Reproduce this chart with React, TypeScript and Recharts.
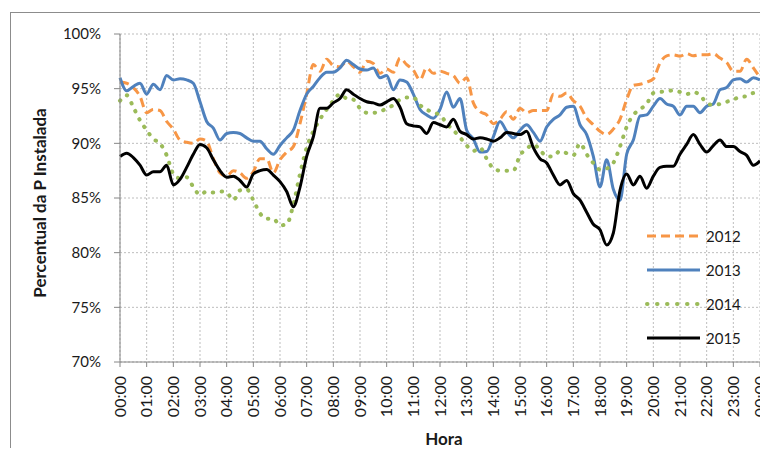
import { LineChart, Line, XAxis, YAxis, CartesianGrid, Legend, Label } from 'recharts'

// 15-minute samples, 00:00 .. 24:00 (97 points)
const serie2012 = [
  95.6, 95.5, 95.1, 94.3, 92.8, 93.1, 93.0, 92.0, 91.3, 90.3, 90.1, 90.0, 90.4, 90.2, 88.6, 87.3, 87.0, 87.5, 87.3, 86.8, 87.4, 88.6, 88.6, 87.3, 88.5,
  89.2, 89.7, 91.8, 94.5, 97.2, 96.6, 97.7, 97.1, 97.0, 97.5, 97.0, 96.5, 97.5, 97.3, 96.4, 96.8, 96.5, 97.8, 97.2, 96.7, 95.8, 96.9, 96.4, 96.6,
  96.4, 96.2, 95.5, 96.0, 93.7, 92.9, 92.6, 91.8, 92.2, 92.9, 92.2, 93.2, 92.8, 93.0, 93.0, 93.0, 94.5, 94.3, 94.6, 93.9, 93.4, 92.3, 91.7, 91.1,
  90.8, 91.3, 92.2, 94.0, 95.3, 95.4, 95.6, 95.9, 97.35, 98.0, 98.1, 97.97, 98.2, 98.0, 98.1, 98.1, 98.2, 97.8, 97.4, 96.6, 96.6, 97.7, 96.9, 96.0,
]

const serie2013 = [
  96.0, 94.8, 95.2, 95.5, 94.5, 95.4, 94.9, 96.2, 95.8, 95.9, 95.8, 95.5, 93.8, 92.0, 91.4, 90.3, 90.9, 91.0, 90.9, 90.5, 90.2, 90.2, 89.5, 89.0, 89.8,
  90.5, 91.2, 93.0, 94.5, 95.2, 96.0, 96.5, 96.5, 96.9, 97.6, 97.2, 96.8, 96.7, 96.9, 96.0, 96.2, 94.9, 95.8, 95.6, 94.5, 93.1, 92.6, 92.3, 93.1,
  94.7, 93.3, 94.1, 91.2, 90.4, 89.2, 89.25, 90.6, 92.0, 91.1, 90.5, 91.2, 91.7, 91.0, 90.2, 91.5, 92.2, 92.6, 93.3, 93.4, 91.7, 90.8, 88.8, 86.0,
  88.5, 85.8, 84.8, 89.0, 90.3, 92.5, 92.6, 93.4, 94.1, 93.6, 93.4, 92.6, 93.4, 93.4, 92.8, 93.4, 93.6, 94.9, 95.1, 95.8, 95.9, 95.6, 96.0, 95.8,
]

const serie2014 = [
  93.9, 94.4, 93.3, 92.1, 91.2, 90.4, 90.0, 88.9, 87.2, 86.8, 86.9, 86.0, 85.3, 85.6, 85.5, 85.6, 85.5, 84.8, 85.7, 85.8, 84.8, 83.6, 83.1, 83.1, 82.5,
  82.6, 84.4, 87.2, 89.6, 91.1, 92.2, 93.1, 93.9, 94.5, 94.1, 94.0, 93.2, 92.8, 92.8, 92.9, 93.2, 93.5, 94.0, 94.2, 94.2, 93.5, 93.1, 92.8, 92.6,
  91.8, 91.2, 90.55, 89.8, 89.3, 89.6, 88.6, 87.7, 87.5, 87.5, 87.5, 88.9, 89.5, 89.9, 89.4, 88.8, 88.8, 89.3, 89.1, 88.9, 90.0, 89.0, 88.2, 87.6,
  87.7, 88.2, 89.7, 91.5, 92.6, 93.1, 93.6, 94.6, 94.7, 94.75, 94.85, 94.7, 94.5, 94.7, 94.4, 93.7, 93.5, 93.6, 93.8, 94.0, 94.25, 94.3, 94.6, 94.6,
]

const serie2015 = [
  88.8, 89.1, 88.7, 88.0, 87.1, 87.4, 87.4, 88.0, 86.2, 86.7, 87.8, 89.0, 89.9, 89.6, 88.5, 87.5, 86.9, 87.0, 86.6, 86.0, 87.2, 87.5, 87.6, 87.1, 86.5,
  85.6, 84.2, 86.0, 88.8, 90.6, 93.2, 93.2, 93.7, 94.1, 94.9, 94.5, 94.1, 93.8, 93.7, 93.5, 93.8, 94.1, 93.3, 91.8, 91.6, 91.5, 90.9, 91.9, 91.7,
  91.5, 92.2, 91.1, 90.8, 90.4, 90.5, 90.4, 90.2, 90.5, 91.0, 90.9, 90.8, 91.1, 89.6, 88.6, 88.2, 87.1, 86.2, 86.6, 85.4, 84.8, 83.7, 82.6, 82.1,
  80.7, 81.8, 85.7, 87.2, 86.2, 87.0, 85.9, 87.0, 87.8, 87.9, 87.9, 89.0, 89.9, 90.8, 89.9, 89.2, 89.8, 90.3, 89.7, 89.7, 89.25, 88.9, 88.0, 88.4,
]

const hourTicks = [0, 1, 2, 3, 4, 5, 6, 7, 8, 9, 10, 11, 12, 13, 14, 15, 16, 17, 18, 19, 20, 21, 22, 23, 24]
const percentTicks = [70, 75, 80, 85, 90, 95, 100]

const series = [
  { key: 'y2012', name: '2012', color: '#F79646', dash: '9 5', legendDash: '9 5', cap: 'butt' as const, width: 3 },
  { key: 'y2013', name: '2013', color: '#4F81BD', dash: undefined, legendDash: undefined, cap: 'butt' as const, width: 3 },
  { key: 'y2014', name: '2014', color: '#9BBB59', dash: '0.5 8.5', legendDash: '0.5 9.5', cap: 'round' as const, width: 4 },
  { key: 'y2015', name: '2015', color: '#000000', dash: undefined, legendDash: undefined, cap: 'butt' as const, width: 3 },
]

const data = serie2012.map((v, i) => ({
  h: i / 4,
  y2012: v,
  y2013: serie2013[i],
  y2014: serie2014[i],
  y2015: serie2015[i],
}))

const FONT = 'Lato, "Open Sans", sans-serif'
const TEXT = '#1a1a1a'

function HourTick(props: any) {
  const { x, y, payload } = props
  const h = payload.value % 24
  const label = `${String(h).padStart(2, '0')}:00`
  return (
    <text
      x={x}
      y={y}
      transform={`rotate(-90 ${x} ${y})`}
      textAnchor="end"
      dy="0.36em"
      fontSize={16}
      fontFamily={FONT}
      fill={TEXT}
    >
      {label}
    </text>
  )
}

function LegendBox() {
  return (
    <div style={{ fontFamily: FONT }}>
      {series.map((s) => (
        <div key={s.key} style={{ display: 'flex', alignItems: 'center', height: 34 }}>
          <svg width={58} height={8}>
            <line
              x1={2}
              x2={55}
              y1={4}
              y2={4}
              stroke={s.color}
              strokeWidth={s.width}
              strokeDasharray={s.legendDash}
              strokeLinecap={s.cap}
            />
          </svg>
          <span style={{ fontSize: 15, color: TEXT, marginLeft: 3 }}>{s.name}</span>
        </div>
      ))}
    </div>
  )
}

export default function App() {
  return (
    <div
      style={{
        position: 'relative',
        width: 768,
        height: 456,
        margin: -8,
        overflow: 'hidden',
        background: '#fff',
        fontFamily: FONT,
      }}
    >
      <div
        style={{
          position: 'absolute',
          left: 10,
          top: 12,
          width: 800,
          height: 500,
          border: '1px solid #8c8c8c',
        }}
      />
      <div style={{ position: 'absolute', left: 0, top: 0 }}>
        <LineChart
          width={768}
          height={456}
          data={data}
          margin={{ top: 34, right: 8, left: 0, bottom: 0 }}
        >
          <CartesianGrid stroke="#bdbdbd" strokeDasharray="2 2" />
          <XAxis
            dataKey="h"
            type="number"
            domain={[0, 24]}
            ticks={hourTicks}
            interval={0}
            height={94}
            stroke="#868686"
            tickSize={5}
            tickMargin={9}
            tick={<HourTick />}
          >
            <Label
              content={(p: any) => {
                const vb = p.viewBox
                return (
                  <text
                    x={vb.x + vb.width / 2 + 4}
                    y={445}
                    textAnchor="middle"
                    fontSize={17}
                    fontWeight={700}
                    fontFamily={FONT}
                    fill={TEXT}
                  >
                    Hora
                  </text>
                )
              }}
            />
          </XAxis>
          <YAxis
            type="number"
            domain={[70, 100]}
            ticks={percentTicks}
            interval={0}
            width={120}
            stroke="#868686"
            tickSize={6}
            tickMargin={13}
            tickFormatter={(v) => `${v}%`}
            tick={{ fontSize: 15, fill: TEXT, fontFamily: FONT }}
          >
            <Label
              content={(p: any) => {
                const vb = p.viewBox
                const cx = 46
                const cy = vb.y + vb.height / 2 + 5
                return (
                  <text
                    x={cx}
                    y={cy}
                    transform={`rotate(-90 ${cx} ${cy})`}
                    textAnchor="middle"
                    fontSize={17}
                    fontWeight={700}
                    fontFamily={FONT}
                    fill={TEXT}
                  >
                    Percentual da P Instalada
                  </text>
                )
              }}
            />
          </YAxis>
          <Legend
            layout="vertical"
            align="center"
            verticalAlign="middle"
            content={() => <LegendBox />}
            wrapperStyle={{ left: 645, top: 219, width: 120, height: 136 }}
          />
          {series.map((s) => (
            <Line
              key={s.key}
              dataKey={s.key}
              name={s.name}
              type="monotone"
              stroke={s.color}
              strokeWidth={s.width}
              strokeDasharray={s.dash}
              strokeLinecap={s.cap}
              dot={false}
              activeDot={false}
              isAnimationActive={false}
            />
          ))}
        </LineChart>
      </div>
    </div>
  )
}
